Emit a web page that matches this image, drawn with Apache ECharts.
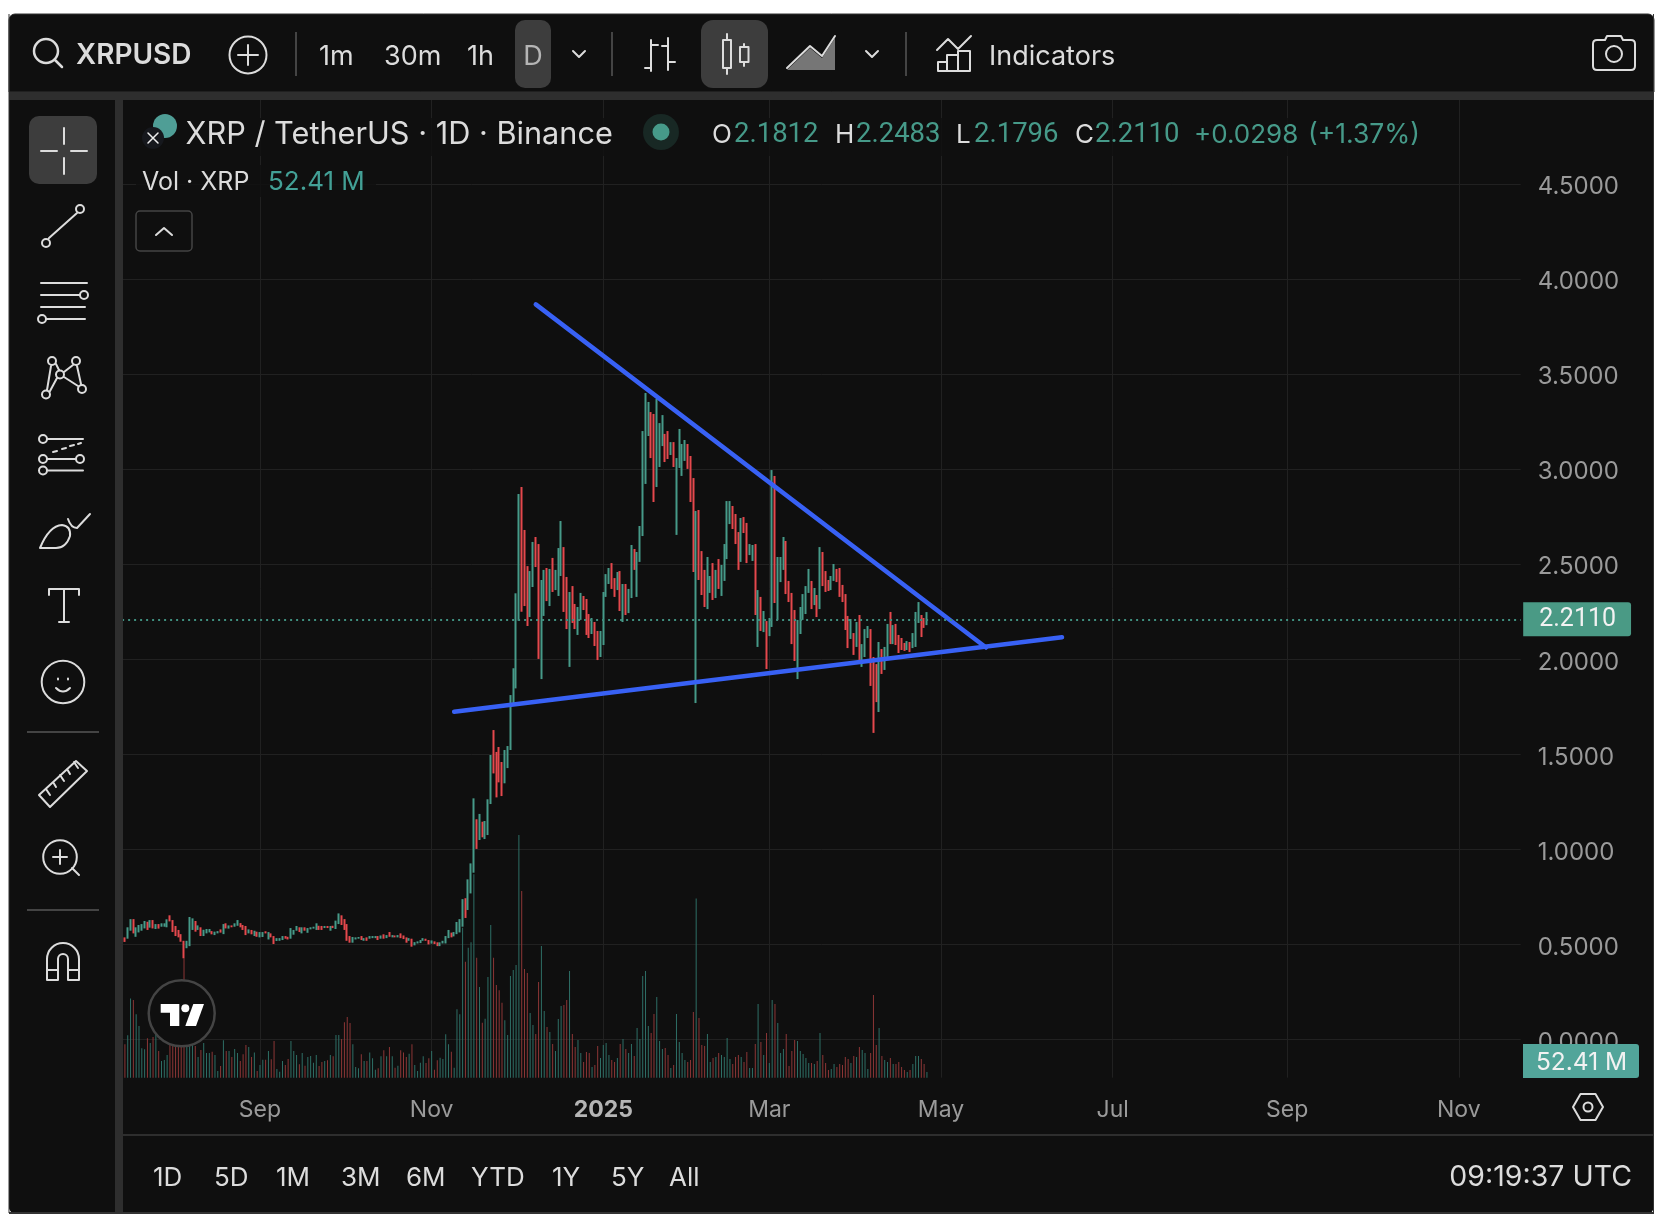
<!DOCTYPE html>
<html lang="en">
<head>
<meta charset="utf-8">
<title>XRPUSD</title>
<style>
  html, body { margin: 0; padding: 0; background: #fff; }
  #main { width: 1670px; height: 1232px; }
</style>
</head>
<body>
<div id="main"></div>
<script src="https://cdn.jsdelivr.net/npm/echarts@6/dist/echarts.min.js"></script>
<script>
// daily bars from 2024-07-15 to 2025-04-26
var firstDay = '2024-07-14';   // one day before the first bar, sits under the left gutter
var axisDays = 498;

var highs = [
  .538,.591,.634,.634,.591,.603,.608,.624,.620,.629,
  .629,.608,.608,.612,.612,.633,.654,.629,.598,.577,
  .555,.520,.520,.645,.638,.624,.601,.591,.578,.582,
  .582,.571,.568,.571,.580,.608,.612,.601,.601,.612,
  .629,.613,.603,.598,.580,.577,.573,.568,.566,.566,
  .570,.566,.559,.545,.534,.534,.545,.545,.541,.587,
  .577,.598,.591,.591,.591,.587,.591,.594,.612,.599,
  .598,.598,.598,.598,.599,.626,.664,.654,.634,.608,
  .545,.540,.538,.540,.545,.534,.538,.545,.545,.545,
  .545,.548,.554,.550,.566,.550,.548,.550,.559,.548,
  .538,.534,.531,.513,.517,.524,.534,.531,.524,.522,
  .517,.512,.512,.520,.545,.577,.563,.566,.619,.634,
  .739,.744,.843,.927,1.269,1.159,1.187,1.146,1.150,1.264,
  1.497,1.628,1.513,1.539,1.460,1.523,1.544,1.812,1.953,2.347,
  2.869,2.906,2.680,2.490,2.464,2.617,2.643,2.606,2.417,2.470,
  2.480,2.475,2.533,2.470,2.585,2.727,2.590,2.433,2.354,2.385,
  2.291,2.275,2.349,2.333,2.317,2.238,2.217,2.196,2.149,2.149,
  2.354,2.448,2.480,2.506,2.427,2.459,2.464,2.396,2.396,2.370,
  2.601,2.580,2.564,2.701,3.200,3.400,3.353,3.300,3.290,3.369,
  3.242,3.284,3.185,3.200,3.142,3.142,3.058,3.211,3.132,3.153,
  3.132,3.069,2.953,2.780,2.785,2.569,2.470,2.538,2.438,2.506,
  2.470,2.527,2.496,2.606,2.832,2.832,2.806,2.764,2.669,2.743,
  2.748,2.717,2.606,2.601,2.606,2.364,2.328,2.254,2.201,2.217,
  2.995,2.964,2.538,2.538,2.643,2.622,2.412,2.349,2.259,2.207,
  2.275,2.343,2.385,2.475,2.412,2.375,2.338,2.590,2.564,2.464,
  2.417,2.438,2.501,2.475,2.480,2.391,2.343,2.228,2.212,2.138,
  2.196,2.233,2.080,2.159,2.175,2.159,2.012,1.975,2.091,2.054,
  2.065,2.186,2.249,2.180,2.186,2.128,2.112,2.086,2.096,2.091,
  2.138,2.249,2.301,2.233,2.217,2.2483
];
var lows = [
  .514,.531,.573,.559,.541,.564,.573,.585,.577,.589,
  .585,.582,.584,.594,.594,.591,.622,.566,.545,.538,
  .515,.428,.481,.492,.577,.568,.577,.545,.545,.559,
  .564,.554,.550,.559,.563,.555,.585,.584,.591,.594,
  .599,.591,.577,.550,.559,.554,.545,.541,.538,.540,
  .559,.527,.538,.503,.519,.520,.524,.531,.527,.531,
  .552,.573,.566,.559,.573,.562,.580,.584,.577,.577,
  .577,.587,.587,.573,.587,.582,.608,.603,.577,.520,
  .510,.510,.527,.531,.524,.520,.520,.531,.534,.534,
  .524,.531,.531,.534,.541,.538,.538,.538,.534,.529,
  .510,.520,.489,.496,.506,.508,.520,.520,.501,.505,
  .503,.492,.492,.506,.506,.534,.538,.543,.555,.564,
  .594,.640,.682,.769,.878,1.003,1.050,1.064,1.055,1.076,
  1.239,1.400,1.274,1.353,1.281,1.348,1.428,1.523,1.760,1.847,
  2.203,2.250,2.280,2.175,2.222,2.380,2.485,2.002,1.896,2.228,
  2.306,2.280,2.354,2.364,2.333,2.438,2.249,2.159,1.960,2.191,
  2.159,2.128,2.207,2.259,2.128,2.112,2.133,2.070,1.996,2.012,
  2.075,2.328,2.396,2.370,2.328,2.364,2.254,2.196,2.233,2.243,
  2.322,2.470,2.328,2.512,2.648,2.922,3.174,3.058,2.827,2.906,
  3.011,3.121,3.037,3.053,3.074,3.011,2.654,3.006,2.964,3.043,
  3.001,2.827,2.459,1.770,2.417,2.338,2.275,2.264,2.349,2.312,
  2.322,2.370,2.333,2.412,2.527,2.711,2.685,2.606,2.470,2.512,
  2.664,2.506,2.548,2.517,2.233,2.065,2.149,2.143,1.949,2.122,
  2.170,2.296,2.207,2.406,2.470,2.343,2.301,2.080,1.991,1.896,
  2.133,2.207,2.238,2.349,2.264,2.285,2.222,2.264,2.385,2.354,
  2.359,2.364,2.412,2.406,2.328,2.301,2.154,2.059,2.107,2.023,
  2.065,1.981,1.960,2.012,2.112,1.860,1.613,1.775,1.723,1.923,
  1.944,2.002,2.080,2.080,2.075,2.033,2.049,2.044,2.049,2.038,
  2.059,2.065,2.191,2.117,2.165,2.1796
];
// G closed up, R closed down
var barColors = [
  'RGGRGGGGRG','RGRGGGRRRR','RRGGGRGRGG','GRGGRGRGRG','GRRRGRGRGG',
  'RGRRGGGRRG','GGRGRGGGGR','RGRGRGGRRR','RGGGRGRGGG','RGRGRGRGRR',
  'RGRGGGGRRG','RRGGGGRGGG','GRGGGRGRGG','GRRRRGGGGG','GRRRGGRRGG',
  'RGRGGGRRGR','RGGRRRGRRG','GGGRRGRGRG','GRGGGGGRRG','GGRRGRGGGG',
  'RRRGRRRGGR','GRGGGGRRRG','RRGGRGRGRG','GRGGGRRRRG','GGGGRGRGRR',
  'RGGRRRRRGR','GRGGGRRRGR','GGRGRRRRGR','GGGRRG'
].join('');
// millions of XRP
var volumes = [
  307,390,730,715,583,476,270,261,362,319,
  375,400,246,154,163,209,300,420,500,380,
  520,1100,520,640,420,292,190,255,319,227,
  227,239,209,61,107,344,246,246,190,264,
  227,154,215,301,282,190,233,61,117,166,
  166,246,169,338,80,55,154,117,172,338,
  246,209,123,227,111,190,200,138,209,107,
  144,154,160,209,197,393,393,356,510,559,
  503,307,98,86,215,154,154,233,178,74,
  86,197,252,197,282,197,92,111,252,233,
  190,221,307,117,61,138,197,135,178,246,
  74,160,184,172,400,307,239,92,630,583,
  1380,1068,1197,1246,1872,1105,835,506,543,927,
  1406,1105,853,804,690,528,393,936,992,1038,
  2235,1719,1001,964,596,485,402,881,1213,614,
  467,421,310,246,540,660,669,715,982,402,
  282,347,227,144,236,227,98,117,292,181,
  301,319,209,163,144,181,310,356,264,227,
  310,200,457,356,936,982,476,411,586,743,
  338,264,273,209,89,117,586,328,227,163,
  144,163,605,1650,550,301,292,402,144,181,
  190,227,209,190,365,172,126,190,209,190,
  144,236,89,89,310,678,328,209,411,135,
  715,678,503,227,264,402,107,246,347,338,
  246,218,181,135,135,126,154,411,209,135,
  71,80,126,98,126,117,190,172,135,200,
  190,282,255,227,80,227,761,301,457,200,
  163,144,181,126,126,144,98,71,52,71,
  126,200,200,172,126,52.41
];
var lastClose = 2.2110;

var fallingLineDates = ['2024-12-08', '2025-05-17'];
var fallingLinePrices = [3.866, 2.062];
var risingLineDates = ['2024-11-09', '2025-06-13'];
var risingLinePrices = [1.724, 2.116];

var priceTicks = ['0.0000','0.5000','1.0000','1.5000','2.0000','2.5000','3.0000','3.5000','4.0000','4.5000'];
var monthTicks = {
  '2024-09-01': 'Sep', '2024-11-01': 'Nov', '2025-01-01': '2025', '2025-03-01': 'Mar',
  '2025-05-01': 'May', '2025-07-01': 'Jul', '2025-09-01': 'Sep', '2025-11-01': 'Nov'
};
var legendValues = ['2.1812', '2.2483', '2.1796', '2.2110'];
var rangeButtons = ['1D', '5D', '1M', '3M', '6M', 'YTD', '1Y', '5Y', 'All'];

var BG = '#0f0f0f', GUTTER = '#2e2e2e', ACTIVE = '#3d3d3d', GRID = '#212121';
var TEXT = '#dcdcdc', MUTED = '#9a9a9a', UP = '#469a89', DOWN = '#e5484d', BADGE = '#52a59a';
var FONT = 'Inter, "Noto Sans", sans-serif';
var DIGITS = 'Roboto, Inter, sans-serif';   // evenly spaced figures, Inter squeezes the ones

var dates = [];
for (var d = 0; d < axisDays; d++) {
  dates.push(new Date(Date.parse(firstDay) + d * 864e5).toISOString().slice(0, 10));
}

var candles = [['-', '-', '-', '-']];
var volumeBars = ['-'];
highs.forEach(function (high, i) {
  var up = barColors[i] === 'G';
  candles.push(up ? [lows[i], high, lows[i], high] : [high, lows[i], lows[i], high]);
  volumeBars.push({ value: volumes[i], itemStyle: { color: up ? '#2e6f66' : '#8c3636' } });
});

function isMonthTick(index, value) { return monthTicks[value] !== undefined; }

// chrome helpers, all of it sits above the plot
function rect(x, y, w, h, fill, r, z) {
  return { type: 'rect', z: z === undefined ? 100 : z, silent: true,
    shape: { x: x, y: y, width: w, height: h, r: r || 0 }, style: { fill: fill } };
}
function txt(x, y, text, size, color, align, weight, family) {
  return { type: 'text', z: 101, silent: true, x: x, y: y,
    style: { text: text, fill: color, textAlign: align || 'left', textVerticalAlign: 'middle',
      font: (weight || 400) + ' ' + size + 'px ' + (family || FONT) } };
}
// the graphic component has no plain path type, so every icon gets its own shape class
var iconCount = 0;
function icon(d, color, width, fill) {
  var name = 'toolIcon' + (iconCount++);
  echarts.graphic.registerShape(name, echarts.graphic.extendPath(d));
  return { type: name, z: 101, silent: true,
    style: { fill: fill || 'none', stroke: color || TEXT, lineWidth: width || 2, lineCap: 'round', lineJoin: 'round' } };
}
function ring(cx, cy, r) {
  return 'M' + (cx - r) + ' ' + cy + 'a' + r + ' ' + r + ' 0 1 0 ' + (2 * r) + ' 0a' + r + ' ' + r + ' 0 1 0 ' + (-2 * r) + ' 0';
}

var chrome = [
  rect(9, 14, 1645, 1199, BG, 6, -1),
  // gutters and panels
  { type: 'rect', z: 100, silent: true, shape: { x: 9, y: 14, width: 1645, height: 78, r: [6, 6, 0, 0] }, style: { fill: BG, stroke: '#333', lineWidth: 1 } },
  rect(9, 92, 1645, 8, GUTTER),
  rect(9, 100, 106, 1113, BG, [0, 0, 0, 6]),
  rect(115, 100, 8, 1113, GUTTER),
  rect(9, 1212, 1645, 2, '#333'),
  rect(1653, 14, 1, 1199, '#333'),
  rect(8.5, 14, 1, 1199, '#333'),
  rect(123, 1134, 1530, 2, GUTTER),

  // top toolbar
  icon(ring(46, 51, 12) + 'M55 60L62 67', TEXT, 2.5),
  txt(76, 56, 'XRPUSD', 28, TEXT, 'left', 600),
  icon(ring(248, 55, 18.5) + 'M248 45V65M238 55H258', TEXT, 2),
  rect(295, 32, 2, 44, '#444'),
  txt(319, 57, '1m', 27, TEXT),
  txt(384, 57, '30m', 27, TEXT),
  txt(467, 57, '1h', 27, TEXT),
  rect(515, 20, 36, 68, ACTIVE, 10),
  txt(533, 57, 'D', 27, '#b5b5b5', 'center'),
  icon('M573 51L579 57L585 51', TEXT, 2),
  rect(611, 32, 2, 44, '#444'),
  icon('M651 40V71M651 45H658M645 68H651M668 38V70M662 46H668M668 62H675', TEXT, 2),
  rect(701, 20, 67, 68, ACTIVE, 12),
  icon('M727 34V40M727 68V74M723 40H731V68H723ZM744 44V47M744 62V66M740 47H748.5V62H740Z', TEXT, 2),
  icon('M787 68L810 46L822 56L835 36', TEXT, 2),
  { type: 'polygon', z: 100, silent: true, shape: { points: [[787, 70], [810, 48], [822, 58], [835, 38], [835, 70]] }, style: { fill: 'rgba(221,221,221,.5)' } },
  icon('M866 51L872 57L878 51', TEXT, 2),
  rect(905, 32, 2, 44, '#444'),
  icon('M937 50L948 39L958 49L971 36M938 71V62H947V55H958V51H970V71ZM947 62V71M958 55V71', TEXT, 2),
  txt(989, 57, 'Indicators', 27, TEXT),
  icon('M1597 40H1605L1607 36H1621L1623 40H1631Q1635 40 1635 44V66Q1635 70 1631 70H1597Q1593 70 1593 66V44Q1593 40 1597 40Z' + ring(1614, 54, 8), TEXT, 2),

  // drawing tools
  rect(29, 116, 68, 68, ACTIVE, 10),
  icon('M64 128V144M64 158V174M41 151H57M71 151H87', TEXT, 2),
  icon('M49 238L77 213' + ring(46, 243, 4) + ring(80, 209, 4), TEXT, 2),
  icon('M41 283H87M41 295H79' + ring(84, 295, 4) + 'M41 307H85M47 319H85' + ring(42, 319, 4), TEXT, 2),
  icon('M51 366L47 390M56 364L59 370M64 372L73 365M77 366L81 384M64 377L78 386M57 378L50 391' + ring(52, 361, 4) + ring(76, 361, 4) + ring(60, 374.5, 4) + ring(46, 394.5, 4) + ring(82, 389, 4), TEXT, 2),
  icon('M48 439H83' + ring(43, 439, 4) + 'M53 452L57 451M62 449L66 448M70 446L74 445M78 444L81 443M48 459H75' + ring(43, 459, 4) + ring(80, 459, 4) + 'M48 470.5H83' + ring(43, 470.5, 4), TEXT, 2),
  icon('M40 548Q49 526 62 525Q71 526 70 536Q66 548 56 548ZM68 519Q71 528 77 528L90 514', TEXT, 2),
  icon('M49 595V589H79V595M64 589V622M59 622H69', TEXT, 2),
  icon(ring(63, 682, 21.3) + 'M56 688Q63 695 70 688M58 678.5V679.5M68 678.5V679.5', TEXT, 2),
  rect(27, 731, 72, 2, '#444'),
  icon('M39 795L76 761L87 771L50 807ZM46 789L50 795M53 782L56 787M60 775L64 781M67 769L70 774M74 762L78 768', TEXT, 2),
  icon(ring(60, 857, 16.8) + 'M60 850V864M53 857H67M72 868L79 875', TEXT, 2),
  rect(27, 909, 72, 2, '#444'),
  icon('M47 980V959A16 16 0 0 1 79 959V980H68V959A5 5 0 0 0 58 959V980ZM47 970H58M68 970H79', TEXT, 2),

  // symbol line
  rect(123, 118, 1305, 38, 'rgba(15,15,15,.8)', 0, 1),
  rect(136, 165, 240, 32, 'rgba(15,15,15,.8)', 0, 1),
  { type: 'circle', z: 100, silent: true, shape: { cx: 165, cy: 126, r: 12 }, style: { fill: '#4f9e96' } },
  { type: 'circle', z: 101, silent: true, shape: { cx: 153, cy: 138, r: 11 }, style: { fill: '#16181d' } },
  icon('M148 133L158 143M158 133L148 143', '#eee', 1.5),
  txt(185.5, 135, 'XRP / TetherUS · 1D · Binance', 30.7, TEXT),
  { type: 'circle', z: 100, silent: true, shape: { cx: 661, cy: 132, r: 18 }, style: { fill: '#182824' } },
  { type: 'circle', z: 101, silent: true, shape: { cx: 661, cy: 132, r: 8.5 }, style: { fill: '#469a89' } },
  txt(712, 135, 'O', 26, TEXT),
  txt(734, 135, legendValues[0], 27.5, UP, 'left', 400, DIGITS),
  txt(835, 135, 'H', 26, TEXT),
  txt(856, 135, legendValues[1], 27.5, UP, 'left', 400, DIGITS),
  txt(956, 135, 'L', 26, TEXT),
  txt(974, 135, legendValues[2], 27.5, UP, 'left', 400, DIGITS),
  txt(1075, 135, 'C', 26, TEXT),
  txt(1095, 135, legendValues[3], 27.5, UP, 'left', 400, DIGITS),
  txt(1194, 135, '+0.0298', 26, UP),
  txt(1308, 135, '(+1.37%)', 26.5, UP),
  txt(142, 182.5, 'Vol · XRP', 25, TEXT),
  txt(268, 182.5, volumes[volumes.length - 1].toFixed(2) + ' M', 26, '#43a096'),
  { type: 'rect', z: 101, silent: true, shape: { x: 136, y: 211, width: 56, height: 40, r: 4 }, style: { fill: 'none', stroke: '#444', lineWidth: 1.5 } },
  icon('M156 235L164 228L172 235', TEXT, 2),

  // tradingview mark
  { type: 'circle', z: 100, silent: true, shape: { cx: 181.7, cy: 1013.3, r: 33 }, style: { fill: BG, stroke: '#444', lineWidth: 2.5 } },
  { type: 'polygon', z: 101, silent: true, shape: { points: [[160.7, 1004], [179.3, 1004], [179.3, 1026], [170, 1026], [170, 1012.7], [160.7, 1012.7]] }, style: { fill: '#fff' } },
  { type: 'circle', z: 101, silent: true, shape: { cx: 185.3, cy: 1008.3, r: 4 }, style: { fill: '#fff' } },
  { type: 'polygon', z: 101, silent: true, shape: { points: [[193.3, 1004], [204, 1004], [196, 1026], [185.3, 1026]] }, style: { fill: '#fff' } },

  // volume badge covers the 0.0000 tick like on the original
  rect(1523, 1044, 116, 34, BADGE, [0, 3, 3, 0]),
  txt(1581.5, 1063, volumes[volumes.length - 1].toFixed(2) + ' M', 24.5, '#f2f2f2', 'center'),
  icon('M1573 1107L1580.5 1094H1595.5L1603 1107L1595.5 1120H1580.5Z' + ring(1588, 1107, 4.5), TEXT, 2),

  txt(1632, 1177, '09:19:37 UTC', 28.5, TEXT, 'right')
];
var rangeX = [153, 214, 276, 341, 406, 471, 552, 611, 669];
rangeButtons.forEach(function (label, i) {
  chrome.push(txt(rangeX[i], 1178, label, 26, TEXT));
});

var chart = echarts.init(document.getElementById('main'), null, { renderer: 'canvas' });
chart.setOption({
  animation: false,
  backgroundColor: '#fff',
  textStyle: { fontFamily: FONT },
  grid: [
    { left: 122.1, top: 88.7, width: 1398.6, height: 951 },
    { left: 122.1, top: 100, width: 1398.6, height: 977.7 }
  ],
  xAxis: [
    { type: 'category', gridIndex: 0, data: dates, boundaryGap: false,
      axisLine: { show: false }, axisTick: { show: false }, axisLabel: { show: false }, splitLine: { show: false } },
    { type: 'category', gridIndex: 1, data: dates, boundaryGap: false,
      axisLine: { show: false }, axisTick: { show: false },
      splitLine: { show: true, interval: isMonthTick, lineStyle: { color: GRID, width: 1 } },
      axisLabel: {
        interval: isMonthTick, margin: 21, color: MUTED, fontSize: 23, fontFamily: FONT,
        formatter: function (value) {
          var label = monthTicks[value];
          return label === '2025' ? '{year|2025}' : label;
        },
        rich: { year: { fontWeight: 700, fontSize: 23, color: '#b5b5b5', fontFamily: FONT } }
      } }
  ],
  yAxis: [
    { type: 'value', gridIndex: 0, position: 'right', min: 0, max: 5, interval: 0.5,
      axisLine: { show: false }, axisTick: { show: false },
      splitLine: { show: true, lineStyle: { color: GRID, width: 1 } },
      // short line box hung from the tick drops the figures about 3px, like the original
      axisLabel: { margin: 17, color: MUTED, fontSize: 24, fontFamily: FONT, verticalAlign: 'top', lineHeight: 6,
        formatter: function (value, index) { return priceTicks[index] || ''; } } },
    { type: 'value', gridIndex: 1, min: 0, max: 9000, show: false }
  ],
  series: [
    { type: 'bar', name: 'Vol', xAxisIndex: 1, yAxisIndex: 1, barWidth: 1, data: volumeBars, z: 1 },
    { type: 'candlestick', name: 'XRP / TetherUS', xAxisIndex: 0, yAxisIndex: 0, barWidth: 0.5, z: 3,
      data: candles,
      itemStyle: { color: UP, color0: DOWN, borderColor: UP, borderColor0: DOWN, borderWidth: 2 },
      markLine: {
        silent: true, symbol: 'none', animation: false,
        data: [{ yAxis: lastClose }],
        lineStyle: { color: '#3f8f7f', type: [2, 4], width: 2 },
        label: { position: 'end', distance: 2.5, formatter: lastClose.toFixed(4), color: '#f2f2f2', fontSize: 25,
          fontFamily: DIGITS, backgroundColor: '#4a9a85', padding: [7, 15, 2, 16], borderRadius: [0, 3, 3, 0] }
      } },
    { type: 'line', name: 'falling', xAxisIndex: 0, yAxisIndex: 0, z: 4, symbol: 'none', silent: true,
      data: fallingLineDates.map(function (day, i) { return [day, fallingLinePrices[i]]; }),
      lineStyle: { color: '#3861f5', width: 4.5, cap: 'round' } },
    { type: 'line', name: 'rising', xAxisIndex: 0, yAxisIndex: 0, z: 4, symbol: 'none', silent: true,
      data: risingLineDates.map(function (day, i) { return [day, risingLinePrices[i]]; }),
      lineStyle: { color: '#3861f5', width: 4.5, cap: 'round' } }
  ],
  graphic: { elements: chrome }
});
</script>
</body>
</html>
